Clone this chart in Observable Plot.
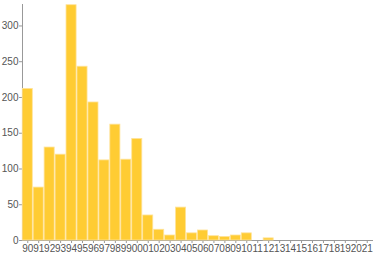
<!DOCTYPE html>
<html><head><meta charset="utf-8">
<script src="https://cdn.jsdelivr.net/npm/d3@7"></script>
<script src="https://cdn.jsdelivr.net/npm/@observablehq/plot@0.6"></script>
<style>
body{margin:0;background:#fff}
#chart svg text{font-family:"Liberation Sans",Arial,sans-serif !important;fill:#555 !important;font-size:10px !important}
#chart svg line, #chart svg g[aria-label*="axis"] path{stroke:#999 !important}
</style>
</head><body><div id="chart"></div>
<script>
const years = ["90","91","92","93","94","95","96","97","98","99","00","01","02","03","04","05","06","07","08","09","10","11","12","13","14","15","16","17","18","19","20","21"];
const counts = [212,74,130,120,329,243,193,112,162,113,142,35,15,7,46,10,14,6,5,7,10,0,3,0,0,0,0,0,0,0,0,0];
const yTicks = [0,50,100,150,200,250,300];
const data = years.map((y,i)=>({year:y,count:counts[i]}));
const chart = Plot.plot({
  width: 380, height: 256,
  marginLeft: 22, marginRight: 8, marginTop: 4, marginBottom: 16,
  style: {background: "#fff"},
  x: {domain: years, range: [22, 372], paddingInner: 0.08, paddingOuter: 0.02, label: null, line: true, tickSize: 3, tickPadding: 1},
  y: {domain: [0, 330], ticks: yTicks, label: null, line: true, tickSize: 3, tickPadding: 1},
  marks: [
    Plot.barY(data, {x: "year", y: "count", fill: "#ffcc33", stroke: "#ffe39a", strokeWidth: 0.8})
  ]
});
document.getElementById("chart").appendChild(chart);
</script></body></html>
